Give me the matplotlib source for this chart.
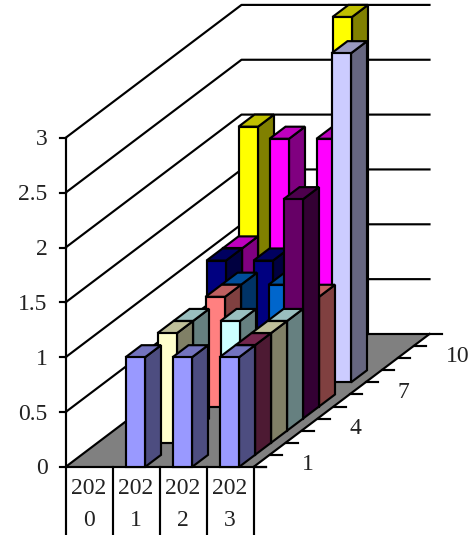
# -*- coding: utf-8 -*-
import matplotlib
matplotlib.use('Agg')
import matplotlib.pyplot as plt
from matplotlib.patches import Polygon

plt.rcParams['font.family'] = ['Liberation Serif', 'DejaVu Serif']

years = ['202\n0', '202\n1', '202\n2', '202\n3']
y_ticks = [0, 0.5, 1, 1.5, 2, 2.5, 3]
y_ticklabels = ['0', '0.5', '1', '1.5', '2', '2.5', '3']
depth_labels = {0: '1', 3: '4', 6: '7', 9: '10'}

# one list per series, front to back, 0 means no bar
s1 = [0, 1, 1, 1]
s2 = [0, 0, 0, 1]
s3 = [0, 1, 0, 1]
s4 = [0, 1, 1, 1]
s5 = [0, 0, 0, 2]
s6 = [0, 1, 0, 1]
s7 = [0, 1, 1, 0]
s8 = [0, 0, 0, 3]
s9 = [1, 1, 0, 0]
s10 = [1, 2, 2, 0]
s11 = [2, 0, 3, 0]
series = [s1, s2, s3, s4, s5, s6, s7, s8, s9, s10, s11]
colors = ['#9999FF', '#993366', '#FFFFCC', '#CCFFFF', '#660066', '#FF8080',
          '#0066CC', '#CCCCFF', '#000080', '#FF00FF', '#FFFF00']

# oblique projection, pixels of the picture
x0, y0 = 65.5, 467.0
cat_w = 47.0
unit_h = 109.7
dx = 16.0
dy = 133.0 / 11
bar_off = 13.0
bar_w = 19.5
lw = 1.55
fs = 17
txt = '#222222'


def proj(c, k, v):
    # c in category units, k in series units, v value
    return (x0 + c * cat_w + k * dx, y0 - k * dy - v * unit_h)


def shade(col, f):
    r, g, b = matplotlib.colors.to_rgb(col)
    return (r * f, g * f, b * f)


fig = plt.figure(figsize=(4.76, 5.35), dpi=100)
ax = fig.add_axes([0, 0, 1, 1])
ax.set_xlim(0, 476)
ax.set_ylim(535, 0)
ax.axis('off')

nc = len(years)
ns = len(series)

# floor
ax.add_patch(Polygon([proj(0, 0, 0), proj(nc, 0, 0), proj(nc, ns, 0), proj(0, ns, 0)],
                     fc='#808080', ec='none', zorder=1))

# walls: sloped and back lines
for v in y_ticks:
    a = proj(0, 0, v)
    b = proj(0, ns, v)
    c = proj(nc, ns, v)
    ax.plot([a[0], b[0], c[0]], [a[1], b[1], c[1]], color='k', lw=lw, zorder=2)
    ax.plot([a[0] - 6, a[0]], [a[1], a[1]], color='k', lw=lw, zorder=2)
    ax.text(a[0] - 18, a[1] + 2, y_ticklabels[y_ticks.index(v)], ha='right', va='center',
            fontsize=fs, color=txt)
ax.plot([x0, x0], [proj(0, 0, 3)[1], y0], color='k', lw=lw, zorder=2)

# floor right edge, ticks and depth labels
a = proj(nc, 0, 0)
b = proj(nc, ns, 0)
ax.plot([a[0], b[0]], [a[1], b[1]], color='k', lw=lw, zorder=2)
for k in range(ns + 1):
    p = proj(nc, k, 0)
    ax.plot([p[0], p[0] + 12], [p[1], p[1]], color='k', lw=lw, zorder=2)
for k, lab in depth_labels.items():
    p = proj(nc, k + 0.5, 0)
    ax.text(p[0] + 40, p[1] + 4, lab, ha='left', va='center', fontsize=fs, color=txt)

# category table under the floor
ax.plot([x0, proj(nc, 0, 0)[0] + 12], [y0, y0], color='k', lw=lw, zorder=2)
for i in range(nc + 1):
    xs = x0 + i * cat_w
    ax.plot([xs, xs], [y0, 535], color='k', lw=lw, zorder=2)
for i, lab in enumerate(years):
    top, bot = lab.split('\n')
    xs = x0 + (i + 0.5) * cat_w
    ax.text(xs, 489, top, ha='center', va='center', fontsize=fs, color=txt)
    ax.text(xs, 520, bot, ha='center', va='center', fontsize=fs, color=txt)

# bars, painted from back to front
z = 3
for k in range(ns - 1, -1, -1):
    for c in range(nc):
        v = series[k][c]
        if v == 0:
            continue
        c0 = c + bar_off / cat_w
        c1 = c + (bar_off + bar_w) / cat_w
        col = colors[k]
        front = [proj(c0, k, 0), proj(c1, k, 0), proj(c1, k, v), proj(c0, k, v)]
        side = [proj(c1, k, 0), proj(c1, k + 1, 0), proj(c1, k + 1, v), proj(c1, k, v)]
        top = [proj(c0, k, v), proj(c1, k, v), proj(c1, k + 1, v), proj(c0, k + 1, v)]
        ax.add_patch(Polygon(side, fc=shade(col, 0.5), ec='k', lw=lw, zorder=z, joinstyle='miter'))
        ax.add_patch(Polygon(top, fc=shade(col, 0.75), ec='k', lw=lw, zorder=z, joinstyle='miter'))
        ax.add_patch(Polygon(front, fc=col, ec='k', lw=lw, zorder=z, joinstyle='miter'))
        z += 1

fig.savefig('out.png', dpi=100)
